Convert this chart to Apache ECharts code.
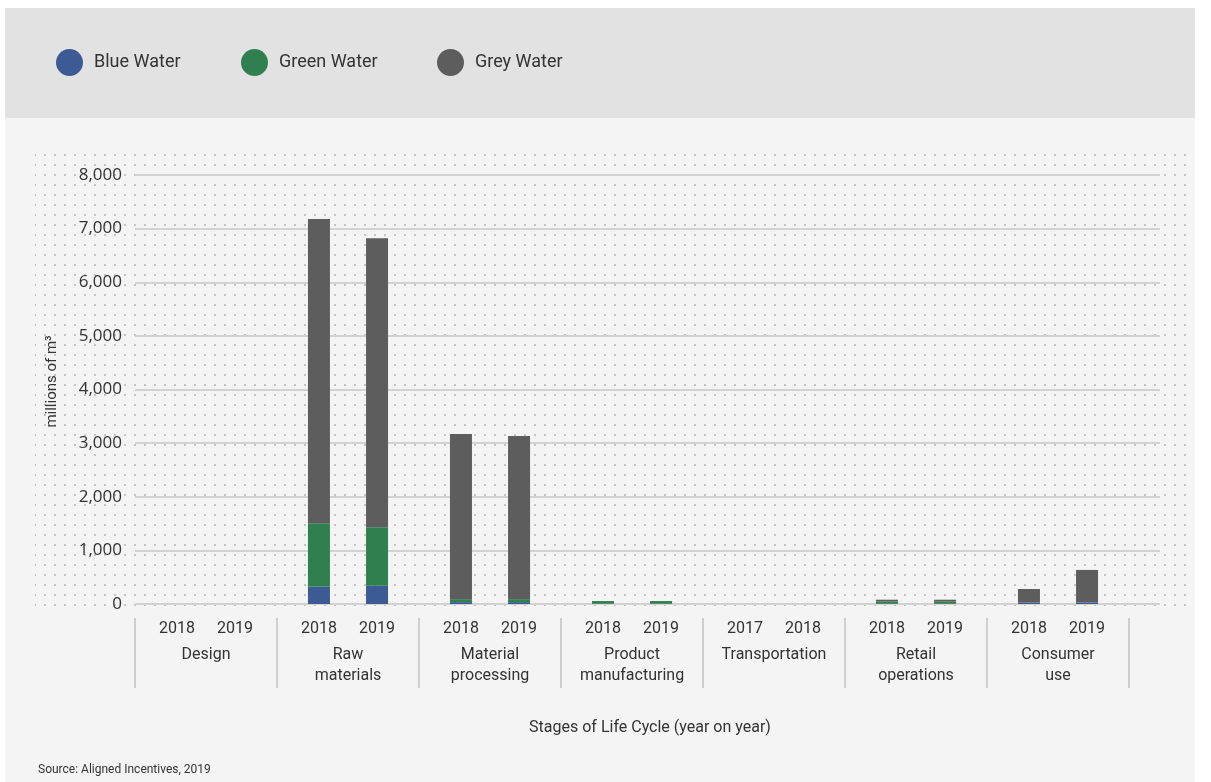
<!DOCTYPE html>
<html>
<head>
<meta charset="utf-8">
<title>Water footprint by life-cycle stage</title>
<script src="https://cdn.jsdelivr.net/npm/echarts@6/dist/echarts.min.js"></script>
<style>
  html, body { margin: 0; padding: 0; background: #ffffff; }
  #chart { width: 1211px; height: 782px; }
</style>
</head>
<body>
<div id="chart"></div>
<script>
// Life-cycle stages and the two reporting years shown for each
const stages = ['Design', 'Raw\nmaterials', 'Material\nprocessing', 'Product\nmanufacturing', 'Transportation', 'Retail\noperations', 'Consumer\nuse'];
const stageYears = [
  ['2018', '2019'], ['2018', '2019'], ['2018', '2019'], ['2018', '2019'],
  ['2017', '2018'], ['2018', '2019'], ['2018', '2019']
];

// Water use, millions of m³ — first year of each pair
const blueFirst  = [0, 320, 35, 5, 0, 5, 25];
const greenFirst = [0, 1185, 55, 50, 0, 45, 0];
const greyFirst  = [0, 5675, 3080, 0, 0, 30, 255];

// Water use, millions of m³ — second year of each pair
const blueSecond  = [0, 340, 35, 5, 0, 5, 30];
const greenSecond = [0, 1090, 55, 50, 0, 45, 0];
const greySecond  = [0, 5390, 3045, 0, 0, 30, 605];

const yTicks = { min: 0, max: 8000, interval: 1000 };

const COLORS = { blue: '#3c5a93', green: '#30804f', grey: '#5d5d5d' };
const FONT = 'Roboto, "Noto Sans", sans-serif';

// dotted backdrop tile
const tile = document.createElement('canvas');
tile.width = 10; tile.height = 10;
const tctx = tile.getContext('2d');
tctx.fillStyle = '#b0b0b0';
tctx.beginPath();
tctx.arc(5, 5, 0.95, 0, Math.PI * 2);
tctx.fill();

const chart = echarts.init(document.getElementById('chart'), null, { renderer: 'canvas' });

function barSeries(name, data, stack, color) {
  return {
    name: name,
    type: 'bar',
    stack: stack,
    xAxisIndex: 0,
    yAxisIndex: 0,
    data: data,
    barWidth: 22,
    barGap: '164%',
    itemStyle: { color: color },
    emphasis: { disabled: true }
  };
}

function legendAt(left, name) {
  return {
    left: left,
    top: 44,
    padding: 5,
    orient: 'horizontal',
    data: [name],
    icon: 'circle',
    itemWidth: 27,
    itemHeight: 27,
    selectedMode: false,
    textStyle: {
      fontFamily: FONT,
      fontSize: 18,
      color: '#333333',
      padding: [0, 0, 0, 6]
    }
  };
}

const option = {
  backgroundColor: '#ffffff',
  animation: false,
  graphic: [
    { type: 'rect', z: -20, shape: { x: 5, y: 8, width: 1190, height: 774 }, style: { fill: '#f4f4f4' } },
    { type: 'rect', z: -19, shape: { x: 5, y: 8, width: 1190, height: 110 }, style: { fill: '#e2e2e2' } },
    { type: 'rect', z: -18, shape: { x: 35, y: 150, width: 1158, height: 458 }, style: { fill: { image: tile, repeat: 'repeat' } } }
  ],
  legend: [
    legendAt(51, 'Blue Water'),
    legendAt(236, 'Green Water'),
    legendAt(432, 'Grey Water')
  ],
  title: [
    {
      text: 'Stages of Life Cycle (year on year)',
      left: 645,
      top: 715,
      textAlign: 'center',
      textStyle: { fontFamily: FONT, fontSize: 16, fontWeight: 'normal', color: '#333333' }
    },
    {
      text: 'Source: Aligned Incentives, 2019',
      left: 33,
      top: 759,
      textStyle: { fontFamily: FONT, fontSize: 12, fontWeight: 'normal', color: '#333333' }
    }
  ],
  grid: [
    { left: 135, width: 994, top: 175, bottom: 178 },
    { left: 135, width: 1025, top: 175, bottom: 178 }
  ],
  xAxis: [
    {
      type: 'category',
      gridIndex: 0,
      data: stages,
      offset: 14,
      axisLine: { show: false, onZero: false },
      axisTick: { show: true, length: 70, lineStyle: { color: '#cfcfcf', width: 2 } },
      axisLabel: {
        margin: -5,
        interval: 0,
        formatter: function (value, idx) {
          const yrs = stageYears[idx];
          const lines = value.split('\n').map(function (s) { return '{n|' + s + '}'; });
          return '{y|' + yrs[0] + '}{y|' + yrs[1] + '}\n' + lines.join('\n');
        },
        rich: {
          y: { fontFamily: FONT, fontSize: 16, color: '#333333', width: 58, align: 'center', lineHeight: 31 },
          n: { fontFamily: FONT, fontSize: 16, color: '#333333', lineHeight: 21, align: 'center' }
        }
      }
    },
    {
      type: 'category',
      gridIndex: 1,
      data: stages,
      show: false
    }
  ],
  yAxis: [
    {
      type: 'value',
      gridIndex: 0,
      min: yTicks.min,
      max: yTicks.max,
      interval: yTicks.interval,
      show: false,
      splitLine: { show: false }
    },
    {
      type: 'value',
      gridIndex: 1,
      min: yTicks.min,
      max: yTicks.max,
      interval: yTicks.interval,
      name: 'millions of m³',
      nameLocation: 'middle',
      nameGap: 75,
      nameTextStyle: { fontFamily: FONT, fontSize: 15, color: '#333333', padding: [0, 0, 0, 16] },
      axisLine: { show: false },
      axisTick: { show: false },
      axisLabel: {
        margin: 13,
        fontFamily: '"Open Sans", sans-serif',
        fontSize: 17,
        color: '#333333',
        formatter: function (v) { return v.toLocaleString('en-US'); }
      },
      splitLine: { show: true, lineStyle: { color: '#d2d2d2', width: 2 } }
    }
  ],
  series: [
    barSeries('Blue Water', blueFirst, 'first', COLORS.blue),
    barSeries('Green Water', greenFirst, 'first', COLORS.green),
    barSeries('Grey Water', greyFirst, 'first', COLORS.grey),
    barSeries('Blue Water', blueSecond, 'second', COLORS.blue),
    barSeries('Green Water', greenSecond, 'second', COLORS.green),
    barSeries('Grey Water', greySecond, 'second', COLORS.grey)
  ]
};

chart.setOption(option);
</script>
</body>
</html>
